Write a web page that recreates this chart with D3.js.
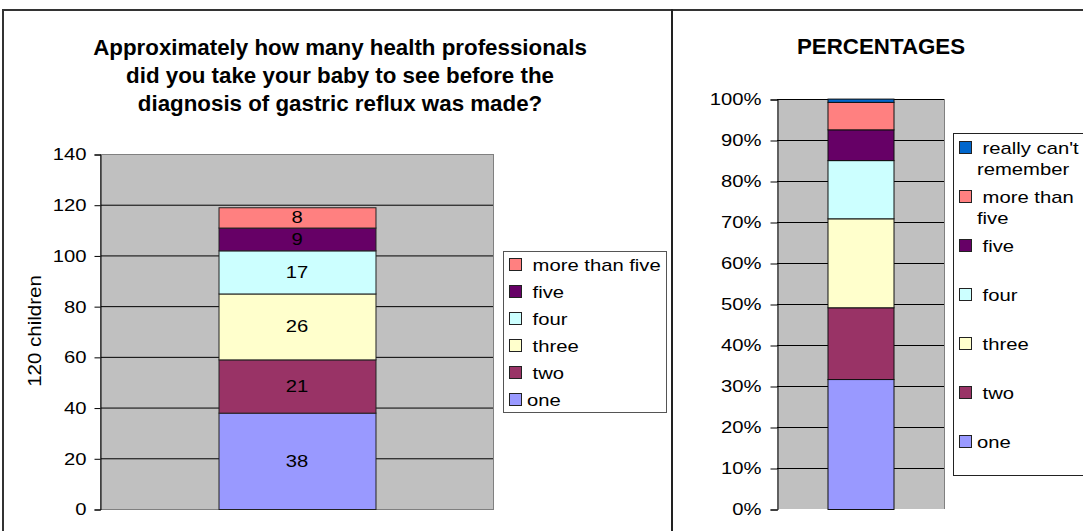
<!DOCTYPE html>
<html>
<head>
<meta charset="utf-8">
<script src="https://cdn.jsdelivr.net/npm/d3@7"></script>
<style>
  html, body { margin: 0; padding: 0; background: #fff; }
  svg { display: block; font-family: "Liberation Sans", Arial, sans-serif; }
  text { white-space: pre; fill: #000; }
</style>
</head>
<body>
<svg id="chart" width="1083" height="531"></svg>
<script>
// ---------- DATA ----------
const categories = [""];
const countSeries = ["one", " two", " three", " four", " five", " more than five"];
const countValues = [38, 21, 26, 17, 9, 8];
const pctSeries = ["one", " two", " three", " four", " five", " more than five", " really can't remember"];
const pctValues = [31.7, 17.5, 21.7, 14.2, 7.5, 6.7, 0.8];
const pctLegendLines = [["one"], [" two"], [" three"], [" four"], [" five"], [" more than", "five"], [" really can't", "remember"]];
const countTicks = [0, 20, 40, 60, 80, 100, 120, 140];
const pctTicks = [0, 10, 20, 30, 40, 50, 60, 70, 80, 90, 100];
const pctTickLabels = ["0%", "10%", "20%", "30%", "40%", "50%", "60%", "70%", "80%", "90%", "100%"];
const seriesColors = ["#9999FF", "#993366", "#FFFFCC", "#CCFFFF", "#660066", "#FF8080", "#0066CC"];
const leftTitle = ["Approximately how many health professionals", "did you take your baby to see before the", "diagnosis of gastric reflux was made?"];
const rightTitle = "PERCENTAGES";
const yAxisTitle = "120 children";

// ---------- HELPERS ----------
const svg = d3.select("#chart");
const FS = 17;     // base text size
const SX = 1.19;   // horizontal widening of base text

function stext(g, x, y, str, o = {}) {
  const sx = o.sx ?? SX;
  return g.append("text")
    .attr("transform", `translate(${x},${y})${o.rotate ? ` rotate(${o.rotate})` : ""} scale(${sx},1)`)
    .attr("text-anchor", o.anchor || "start")
    .style("font-size", (o.size || FS) + "px")
    .style("font-weight", o.weight || "normal")
    .text(str);
}

function stack(values) {
  let acc = 0;
  return values.map((v, i) => { const d = { i, y0: acc, y1: acc + v, v }; acc += v; return d; });
}

// ---------- FRAME ----------
svg.append("line").attr("x1", 3).attr("x2", 1083).attr("y1", 10).attr("y2", 10).attr("stroke", "#333").attr("stroke-width", 2);
svg.append("line").attr("x1", 3).attr("x2", 3).attr("y1", 9).attr("y2", 531).attr("stroke", "#333").attr("stroke-width", 2);
svg.append("line").attr("x1", 672).attr("x2", 672).attr("y1", 9).attr("y2", 531).attr("stroke", "#222").attr("stroke-width", 2);

// ---------- LEFT CHART ----------
{
  const g = svg.append("g");
  const x = d3.scaleBand().domain(categories).range([100, 494]).paddingOuter(0.755).paddingInner(0);
  const y = d3.scaleLinear().domain([0, 140]).range([509, 154]);

  leftTitle.forEach((t, i) => stext(g, 340, 55 + i * 28, t, { size: 22, weight: "bold", anchor: "middle", sx: 1.015 }));

  g.append("rect").attr("x", 100).attr("y", y(140)).attr("width", 394).attr("height", y(0) - y(140))
    .attr("fill", "#C0C0C0");
  g.selectAll("line.grid").data(countTicks.filter(t => t > 0 && t < 140)).enter().append("line")
    .attr("x1", 100).attr("x2", 494).attr("y1", d => y(d) + 0.5).attr("y2", d => y(d) + 0.5)
    .attr("stroke", "#000").attr("stroke-width", 1);
  g.append("rect").attr("x", 100.5).attr("y", y(140) + 0.5).attr("width", 393).attr("height", y(0) - y(140))
    .attr("fill", "none").attr("stroke", "#808080").attr("stroke-width", 1);

  const axis = d3.axisLeft(y).tickValues(countTicks).tickSize(6).tickPadding(5.8).tickFormat(d3.format("d"));
  const ag = g.append("g").attr("transform", "translate(100.5,0.5)").call(axis);
  ag.attr("font-family", null).attr("font-size", null);
  ag.select(".domain").attr("stroke", "#000");
  ag.selectAll(".tick line").attr("stroke", "#000");
  ag.selectAll(".tick text").attr("transform", `scale(${SX},1)`).style("font-size", FS + "px").attr("fill", "#000");

  stext(g, 41, 331, yAxisTitle, { size: 19, anchor: "middle", rotate: -90, sx: 1.08 });

  const segs = stack(countValues);
  const bx = x(categories[0]), bw = x.bandwidth();
  g.selectAll("rect.seg").data(segs).enter().append("rect")
    .attr("x", bx + 0.5).attr("y", d => y(d.y1) + 0.5).attr("width", bw).attr("height", d => y(d.y0) - y(d.y1))
    .attr("fill", d => seriesColors[d.i]).attr("stroke", "#222").attr("stroke-width", 1);
  segs.forEach(d => stext(g, bx + bw / 2, (y(d.y0) + y(d.y1)) / 2 + 6, String(d.v), { anchor: "middle" }));

  // legend
  g.append("rect").attr("x", 503.5).attr("y", 251.5).attr("width", 163).attr("height", 161)
    .attr("fill", "#fff").attr("stroke", "#555");
  const order = countSeries.map((s, i) => i).reverse();
  order.forEach((si, k) => {
    const cy = 265 + k * 27;
    g.append("rect").attr("x", 509.5).attr("y", cy - 6.5).attr("width", 12).attr("height", 12)
      .attr("fill", seriesColors[si]).attr("stroke", "#222");
    stext(g, 527, cy + 6, countSeries[si]);
  });
}

// ---------- RIGHT CHART ----------
{
  const g = svg.append("g");
  const x = d3.scaleBand().domain(categories).range([777, 944]).paddingOuter(0.765).paddingInner(0);
  const y = d3.scaleLinear().domain([0, 100]).range([509, 99]);

  stext(g, 881, 54, rightTitle, { size: 22, weight: "bold", anchor: "middle", sx: 1.015 });

  g.append("rect").attr("x", 777).attr("y", y(100)).attr("width", 167).attr("height", y(0) - y(100))
    .attr("fill", "#C0C0C0");
  g.selectAll("line.grid").data(pctTicks.filter(t => t > 0)).enter().append("line")
    .attr("x1", 777).attr("x2", 944).attr("y1", d => y(d) + 0.5).attr("y2", d => y(d) + 0.5)
    .attr("stroke", "#000").attr("stroke-width", 1);
  g.append("line").attr("x1", 944.5).attr("x2", 944.5).attr("y1", y(100)).attr("y2", y(0))
    .attr("stroke", "#808080");

  const axis = d3.axisLeft(y).tickValues(pctTicks).tickSize(7).tickPadding(6.4)
    .tickFormat((d, i) => pctTickLabels[i]);
  const ag = g.append("g").attr("transform", "translate(777.5,0.5)").call(axis);
  ag.attr("font-family", null).attr("font-size", null);
  ag.select(".domain").attr("stroke", "#000");
  ag.selectAll(".tick line").attr("stroke", "#000");
  ag.selectAll(".tick text").attr("transform", `scale(${SX},1)`).style("font-size", FS + "px").attr("fill", "#000");

  const segs = stack(pctValues);
  const bx = x(categories[0]), bw = x.bandwidth();
  g.selectAll("rect.seg").data(segs).enter().append("rect")
    .attr("x", bx + 0.5).attr("y", d => y(d.y1) + 0.5).attr("width", bw).attr("height", d => y(d.y0) - y(d.y1))
    .attr("fill", d => seriesColors[d.i]).attr("stroke", "#111").attr("stroke-width", 1);

  // legend
  g.append("rect").attr("x", 953.5).attr("y", 133.5).attr("width", 140).attr("height", 342)
    .attr("fill", "#fff").attr("stroke", "#222");
  const order = pctSeries.map((s, i) => i).reverse();
  order.forEach((si, k) => {
    const cy = 148 + k * 49;
    g.append("rect").attr("x", 959.5).attr("y", cy - 6.5).attr("width", 12).attr("height", 12)
      .attr("fill", seriesColors[si]).attr("stroke", "#222");
    pctLegendLines[si].forEach((ln, j) => stext(g, 977, cy + 6 + j * 20.5, ln));
  });
}
</script>
</body>
</html>
